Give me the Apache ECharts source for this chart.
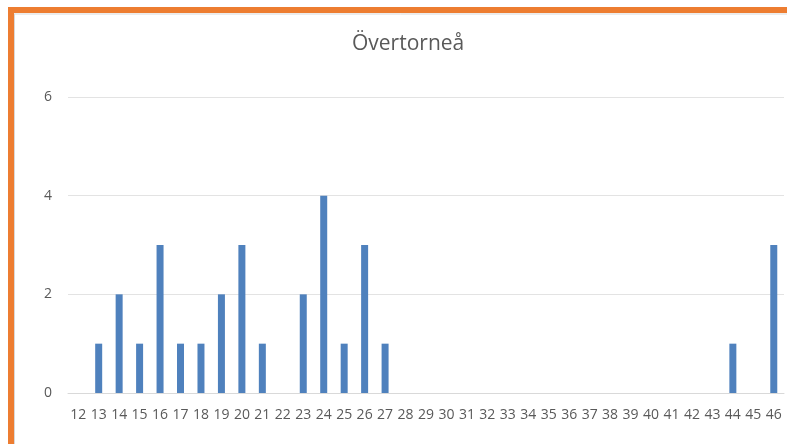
<!DOCTYPE html>
<html>
<head>
<meta charset="utf-8">
<script src="https://cdn.jsdelivr.net/npm/echarts@6/dist/echarts.min.js"></script>
<style>
  html, body { margin: 0; padding: 0; background: #fff; }
  #chart { width: 787px; height: 444px; }
</style>
</head>
<body>
<div id="chart"></div>
<script>
    // kategorier (ålder) och antal
    const categories = ['12', '13', '14', '15', '16', '17', '18', '19', '20', '21', '22', '23', '24', '25', '26', '27',
        '28', '29', '30', '31', '32', '33', '34', '35', '36', '37', '38', '39', '40', '41', '42', '43', '44', '45', '46'];
    const counts = [0, 1, 2, 1, 3, 1, 1, 2, 3, 1, 0, 2, 4, 1, 3, 1,
        0, 0, 0, 0, 0, 0, 0, 0, 0, 0, 0, 0, 0, 0, 0, 0, 1, 0, 3];
    const yTicks = [0, 2, 4, 6];

    const chart = echarts.init(document.getElementById('chart'));
    chart.setOption({
        animation: false,
        textStyle: {
            fontFamily: 'Open Sans'
        },
        title: {
            text: 'Övertorneå',
            left: 347,
            top: 29,
            textStyle: {
                color: '#595959',
                fontSize: 21,
                fontWeight: 'normal',
                fontFamily: 'Open Sans'
            }
        },
        graphic: [
            {
                type: 'rect',
                shape: { x: 8, y: 7, width: 790, height: 6 },
                style: { fill: '#ed7d31' }
            },
            {
                type: 'rect',
                shape: { x: 8, y: 7, width: 6, height: 450 },
                style: { fill: '#ed7d31' }
            },
            {
                type: 'line',
                shape: { x1: 14, y1: 14, x2: 787, y2: 14 },
                style: { stroke: '#d9d9d9', lineWidth: 1 }
            },
            {
                type: 'line',
                shape: { x1: 14.5, y1: 14, x2: 14.5, y2: 444 },
                style: { stroke: '#d9d9d9', lineWidth: 1 }
            }
        ],
        grid: {
            left: 68,
            right: 3,
            top: 97,
            bottom: 51,
            containLabel: false
        },
        xAxis: {
            type: 'category',
            data: categories,
            axisLine: {
                lineStyle: { color: '#d9d9d9' }
            },
            axisTick: { show: false },
            axisLabel: {
                color: '#595959',
                fontSize: 14,
                margin: 15,
                interval: 0
            }
        },
        yAxis: {
            type: 'value',
            min: yTicks[0],
            max: yTicks[yTicks.length - 1],
            interval: 2,
            axisLine: { show: false },
            axisTick: { show: false },
            axisLabel: {
                color: '#595959',
                fontSize: 14,
                margin: 16
            },
            splitLine: {
                lineStyle: { color: '#e3e3e3' }
            }
        },
        series: [
            {
                type: 'bar',
                data: counts,
                barWidth: 7,
                itemStyle: { color: '#4f81bd' }
            }
        ]
    });
</script>
</body>
</html>
